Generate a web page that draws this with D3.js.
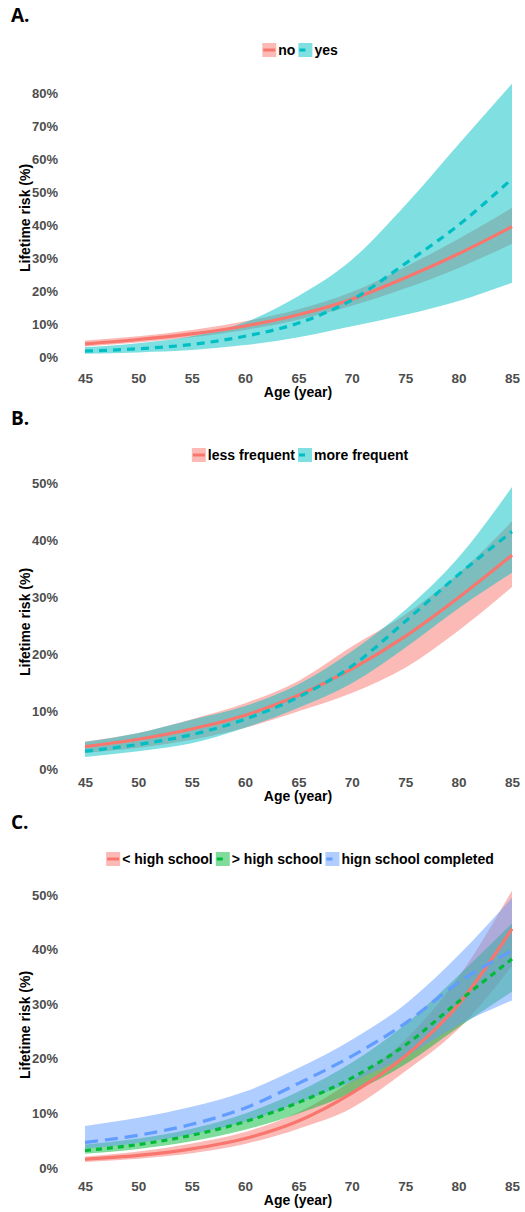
<!DOCTYPE html>
<html>
<head>
<meta charset="utf-8">
<script src="https://cdn.jsdelivr.net/npm/d3@7"></script>
<style>
body { margin: 0; background: #fff; }
text { font-family: "Liberation Sans", Arial, sans-serif; font-weight: bold; }
</style>
</head>
<body>
<svg id="chart" width="525" height="1212"></svg>
<script>
var ages = [45, 50, 55, 60, 65, 70, 75, 80, 85];
var xTicks = [45, 50, 55, 60, 65, 70, 75, 80, 85];

// A. no / yes
var aNoFit   = [4.0, 5.3, 7.0, 9.4, 12.8, 17.5, 24.0, 31.3, 39.5];
var aNoLow   = [3.2, 4.4, 6.0, 8.2, 11.3, 15.5, 20.8, 27.0, 34.3];
var aNoHigh  = [5.0, 6.3, 8.2, 10.8, 14.5, 19.7, 27.3, 35.8, 45.2];
var aYesFit  = [1.8, 2.5, 3.8, 6.3, 10.3, 17.3, 28.3, 40.0, 54.0];
var aYesLow  = [1.0, 1.4, 2.1, 3.6, 6.0, 9.3, 12.8, 17.0, 22.5];
var aYesHigh = [3.0, 4.2, 6.3, 10.5, 18.5, 29.5, 46.0, 64.5, 82.8];

// B. less frequent / more frequent
var bLessFit  = [3.9, 5.2, 7.0, 9.4, 12.9, 17.5, 23.2, 30.0, 37.4];
var bLessLow  = [2.8, 3.7, 5.1, 7.2, 10.1, 13.3, 17.7, 24.2, 31.8];
var bLessHigh = [4.8, 6.3, 8.7, 11.5, 15.4, 21.4, 27.0, 34.2, 43.3];
var bMoreFit  = [3.1, 4.3, 6.0, 8.7, 12.6, 18.0, 25.8, 34.0, 41.5];
var bMoreLow  = [2.1, 3.1, 4.5, 7.2, 10.7, 15.0, 21.2, 28.1, 34.3];
var bMoreHigh = [4.7, 6.3, 8.6, 11.0, 14.8, 20.6, 27.8, 37.0, 49.3];

// C. education
var cLtFit  = [1.6, 2.3, 3.5, 5.4, 8.6, 13.7, 20.5, 30.0, 43.8];
var cLtLow  = [1.1, 1.7, 2.7, 4.4, 7.2, 11.0, 17.7, 25.5, 37.0];
var cLtHigh = [2.1, 3.0, 4.5, 6.6, 10.2, 16.0, 23.5, 35.0, 50.8];
var cGtFit  = [3.2, 4.3, 6.0, 8.5, 12.0, 16.5, 22.5, 30.5, 38.3];
var cGtLow  = [2.6, 3.5, 4.9, 7.0, 10.0, 13.8, 19.0, 25.8, 32.3];
var cGtHigh = [4.3, 5.4, 7.2, 10.0, 14.0, 19.3, 26.3, 35.3, 44.8];
var cHsFit  = [4.7, 6.0, 8.0, 11.0, 15.5, 20.5, 26.5, 34.0, 39.8];
var cHsLow  = [3.6, 4.6, 6.2, 8.5, 12.0, 15.8, 20.4, 26.2, 30.7];
var cHsHigh = [7.7, 9.2, 11.2, 14.0, 18.3, 23.5, 30.0, 39.0, 49.5];

var red = "#F8766D", cyan = "#00BFC4", green = "#00BA38", blue = "#619CFF";

var panels = [
  { label: "A.", labelY: 22, y0: 357, yTop: 93, yMax: 80, yTicks: d3.range(0, 81, 10),
    legendY: 50, tickY: 383, titleY: 397, yTitleY: 218,
    series: [
      { name: "no",  color: red,  dash: null,  fit: aNoFit,  low: aNoLow,  high: aNoHigh },
      { name: "yes", color: cyan, dash: "8,6", fit: aYesFit, low: aYesLow, high: aYesHigh }
    ] },
  { label: "B.", labelY: 425, y0: 769, yTop: 483, yMax: 50, yTicks: d3.range(0, 51, 10),
    legendY: 455, tickY: 787, titleY: 801, yTitleY: 622,
    series: [
      { name: "less frequent", color: red,  dash: null,  fit: bLessFit, low: bLessLow, high: bLessHigh },
      { name: "more frequent", color: cyan, dash: "8,6", fit: bMoreFit, low: bMoreLow, high: bMoreHigh }
    ] },
  { label: "C.", labelY: 829, y0: 1168, yTop: 895, yMax: 50, yTicks: d3.range(0, 51, 10),
    legendY: 859, tickY: 1191, titleY: 1205, yTitleY: 1025,
    series: [
      { name: "< high school", color: red,   dash: null,   fit: cLtFit, low: cLtLow, high: cLtHigh },
      { name: "> high school", color: green, dash: "6,5",  fit: cGtFit, low: cGtLow, high: cGtHigh },
      { name: "hign school completed", color: blue, dash: "13,7", fit: cHsFit, low: cHsLow, high: cHsHigh }
    ] }
];

var svg = d3.select("#chart");
var x = d3.scaleLinear().domain([45, 85]).range([85, 512]);

panels.forEach(function (p) {
  var g = svg.append("g");
  var y = d3.scaleLinear().domain([0, p.yMax]).range([p.y0, p.yTop]);

  g.append("text").attr("x", 11).attr("y", p.labelY)
    .style("font-size", "19px").style("font-family", "'Open Sans', sans-serif")
    .text(p.label);

  // ribbons first, then lines (same order as ggplot)
  p.series.forEach(function (s) {
    var area = d3.area()
      .x(function (d, i) { return x(ages[i]); })
      .y0(function (d, i) { return y(s.low[i]); })
      .y1(function (d, i) { return y(s.high[i]); })
      .curve(d3.curveMonotoneX);
    g.append("path").datum(ages).attr("d", area)
      .attr("fill", s.color).attr("fill-opacity", 0.5);
  });
  p.series.forEach(function (s) {
    var line = d3.line()
      .x(function (d, i) { return x(ages[i]); })
      .y(function (d, i) { return y(s.fit[i]); })
      .curve(d3.curveMonotoneX);
    g.append("path").datum(ages).attr("d", line)
      .attr("fill", "none").attr("stroke", s.color).attr("stroke-width", 3.2)
      .attr("stroke-dasharray", s.dash);
  });

  // axes, no lines, only labels
  var xAxis = g.append("g").attr("transform", "translate(0," + (p.tickY - 14) + ")")
    .call(d3.axisBottom(x).tickValues(xTicks).tickSize(0).tickPadding(0));
  xAxis.select(".domain").remove();
  xAxis.selectAll("text").attr("dy", null).attr("y", 14)
    .style("font-size", "13.5px").attr("fill", "#4D4D4D");

  var yAxis = g.append("g").attr("transform", "translate(58,0)")
    .call(d3.axisLeft(y).tickValues(p.yTicks).tickSize(0).tickPadding(0)
      .tickFormat(function (d) { return d + "%"; }));
  yAxis.select(".domain").remove();
  yAxis.selectAll("text").style("font-size", "13px").attr("fill", "#4D4D4D");

  g.append("text").attr("x", 298).attr("y", p.titleY).attr("text-anchor", "middle")
    .style("font-size", "14px").text("Age (year)");
  g.append("text").attr("transform", "translate(30," + p.yTitleY + ") rotate(-90)")
    .attr("text-anchor", "middle").style("font-size", "14px").text("Lifetime risk (%)");

  // legend, centred
  var leg = g.append("g");
  var cx = 0;
  p.series.forEach(function (s) {
    var item = leg.append("g").attr("transform", "translate(" + cx + ",0)");
    item.append("rect").attr("x", 0).attr("y", p.legendY - 7).attr("width", 14).attr("height", 14)
      .attr("fill", s.color).attr("fill-opacity", 0.5);
    item.append("line").attr("x1", 1).attr("x2", 13).attr("y1", p.legendY).attr("y2", p.legendY)
      .attr("stroke", s.color).attr("stroke-width", 3).attr("stroke-dasharray", s.dash ? "6,6" : null);
    var t = item.append("text").attr("x", 16).attr("y", p.legendY + 5)
      .style("font-size", "14px").text(s.name);
    cx += 16 + t.node().getComputedTextLength() + 3;
  });
  leg.attr("transform", "translate(" + (300 - (cx - 3) / 2) + ",0)");
});
</script>
</body>
</html>
